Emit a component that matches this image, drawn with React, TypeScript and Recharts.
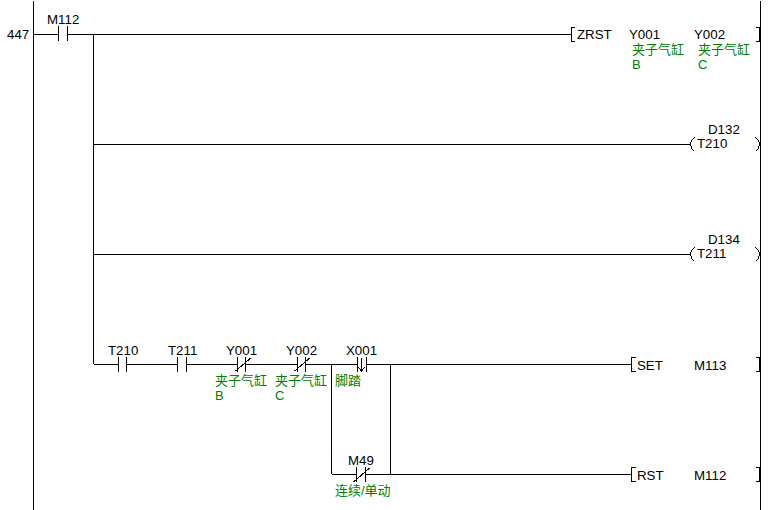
import React from 'react';
import { ComposedChart, Line, Scatter, XAxis, YAxis } from 'recharts';

type Pt = { x: number; y: number };
type Run = number[]; // x1, y1, x2, y2, ...
type Lbl = { x: number; y: number; text: string };

// power rails and wires
const rails: Run[] = [
  [33, 0, 33, 510],
  [760, 0, 760, 510],
];
const wires: Run[] = [
  [33, 34, 58, 34],
  [67, 34, 571, 34],
  [93, 34, 93, 364],
  [93, 144, 690, 144],
  [93, 254, 690, 254],
  [93, 364, 118, 364],
  [126, 364, 177, 364],
  [186, 364, 237, 364],
  [245, 364, 297, 364],
  [305, 364, 357, 364],
  [366, 364, 631, 364],
  [331, 364, 331, 474],
  [390, 364, 390, 474],
  [331, 474, 356, 474],
  [365, 474, 631, 474],
];

// contact plates
const contacts: Run[] = [
  [58, 26, 58, 41],
  [67, 26, 67, 41],
  [118, 357, 118, 372],
  [126, 357, 126, 372],
  [177, 357, 177, 372],
  [186, 357, 186, 372],
  [237, 357, 237, 372],
  [245, 357, 245, 372],
  [297, 357, 297, 372],
  [305, 357, 305, 372],
  [357, 357, 357, 372],
  [366, 357, 366, 372],
  [356, 467, 356, 482],
  [365, 467, 365, 482],
];

// normally-closed slashes and the pulse arrow on X001
const slashes: Run[] = [
  [235, 371, 250, 358],
  [294, 371, 309, 358],
  [353, 482, 369, 468],
  [361, 358, 361, 371],
  [358, 367, 361, 371, 364, 367],
];

// instruction brackets and coil parentheses
const brackets: Run[] = [
  [574, 27, 571, 27, 571, 41, 574, 41],
  [755, 27, 759, 27, 759, 41, 755, 41],
  [759, 34, 760, 34],
  [635, 357, 631, 357, 631, 371, 635, 371],
  [755, 357, 759, 357, 759, 371, 755, 371],
  [759, 364, 760, 364],
  [635, 467, 631, 467, 631, 481, 635, 481],
  [755, 467, 759, 467, 759, 481, 755, 481],
  [759, 474, 760, 474],
  [694, 137, 691, 140, 690, 144, 691, 148, 694, 151],
  [755, 137, 758, 140, 759, 144, 758, 148, 755, 151],
  [694, 247, 691, 250, 690, 254, 691, 258, 694, 261],
  [755, 247, 758, 250, 759, 254, 758, 258, 755, 261],
];

const blackLabels: Lbl[] = [
  { x: 7, y: 39, text: '447' },
  { x: 47, y: 24, text: 'M112' },
  { x: 577, y: 39, text: 'ZRST' },
  { x: 629, y: 39, text: 'Y001' },
  { x: 694, y: 39, text: 'Y002' },
  { x: 708, y: 134, text: 'D132' },
  { x: 697, y: 148, text: 'T210' },
  { x: 708, y: 244, text: 'D134' },
  { x: 697, y: 258, text: 'T211' },
  { x: 108, y: 355, text: 'T210' },
  { x: 168, y: 355, text: 'T211' },
  { x: 226, y: 355, text: 'Y001' },
  { x: 286, y: 355, text: 'Y002' },
  { x: 346, y: 355, text: 'X001' },
  { x: 637, y: 370, text: 'SET' },
  { x: 694, y: 370, text: 'M113' },
  { x: 348, y: 465, text: 'M49' },
  { x: 637, y: 480, text: 'RST' },
  { x: 694, y: 480, text: 'M112' },
];

const greenLabels: Lbl[] = [
  { x: 632, y: 54, text: '夹子气缸' },
  { x: 698, y: 54, text: '夹子气缸' },
  { x: 632, y: 69, text: 'B' },
  { x: 698, y: 69, text: 'C' },
  { x: 215, y: 385, text: '夹子气缸' },
  { x: 275, y: 385, text: '夹子气缸' },
  { x: 215, y: 400, text: 'B' },
  { x: 275, y: 400, text: 'C' },
  { x: 335, y: 385, text: '脚踏' },
  { x: 335, y: 495, text: '连续/单动' },
];

const toPoints = (run: Run): Pt[] => {
  const pts: Pt[] = [];
  for (let i = 0; i < run.length; i += 2) {
    pts.push({ x: run[i] + 0.5, y: run[i + 1] + 0.5 });
  }
  return pts;
};

const allRuns = [...rails, ...wires, ...contacts, ...slashes, ...brackets];

const textShape = (color: string, size: number) => (props: any) => {
  const { cx, cy, payload } = props;
  return (
    <text
      x={cx}
      y={cy}
      fill={color}
      fontSize={size}
      fontFamily={'"Liberation Sans", "Noto Sans CJK SC", sans-serif'}
    >
      {payload.text}
    </text>
  );
};

export default function App() {
  return (
    <div style={{ width: 773, height: 510, background: '#fff' }}>
      <style>{`body{margin:0} .recharts-line-curve{shape-rendering:crispEdges}`}</style>
      <ComposedChart width={773} height={510} margin={{ top: 0, right: 0, bottom: 0, left: 0 }}>
        <XAxis type="number" dataKey="x" domain={[0, 773]} hide />
        <YAxis type="number" dataKey="y" domain={[0, 510]} reversed hide />
        {allRuns.map((run, i) => (
          <Line
            key={i}
            data={toPoints(run)}
            dataKey="y"
            type="linear"
            stroke="#000"
            strokeWidth={1}
            dot={false}
            activeDot={false}
            legendType="none"
            isAnimationActive={false}
          />
        ))}
        <Scatter data={blackLabels} dataKey="y" shape={textShape('#000', 13.3)} isAnimationActive={false} />
        <Scatter data={greenLabels} dataKey="y" shape={textShape('#008000', 13)} isAnimationActive={false} />
      </ComposedChart>
    </div>
  );
}
